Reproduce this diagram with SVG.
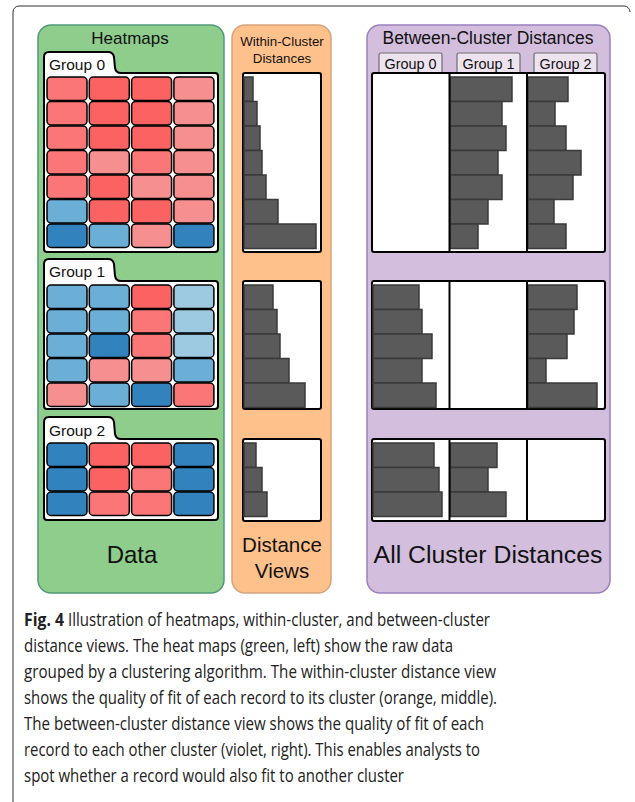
<svg xmlns="http://www.w3.org/2000/svg" width="635" height="802" viewBox="0 0 635 802">
  <style>
    .frame { fill: none; stroke: #333; stroke-width: 1; }
    .pg { fill: #8fcd8c; stroke: #4f9b78; stroke-width: 1.5; }
    .po { fill: #ffc18b; stroke: #d6a47d; stroke-width: 1.5; }
    .pv { fill: #d3bedd; stroke: #9b80bd; stroke-width: 1.5; }
    .t { font-family: "Liberation Sans", Arial, sans-serif; fill: #111; }
    .box { fill: #fff; stroke: #000; stroke-width: 2; }
    .c { stroke: #000; stroke-width: 1.5; }
    .S { fill: #fb6262; } .M { fill: #fb7676; } .P { fill: #f69090; }
    .MB { fill: #6baed6; } .DB { fill: #3182bd; } .LB { fill: #9ecae1; }
    .bar { fill: #5a5a5a; stroke: #3a3a3a; stroke-width: 1.5; }
    .vtab { fill: #ede3ef; stroke: #6e6e6e; stroke-width: 1.2; }
    .div { stroke: #000; stroke-width: 2; }
    .cap { font-family: "Open Sans", "Noto Sans", sans-serif; font-size: 18px; fill: #222; }
  </style>

  <path class="frame" d="M13,802 V12 A6,6 0 0 1 19,6 H624 A6,6 0 0 1 630,12"/>

  <!-- Heatmaps panel -->
  <g id="heatmaps">
    <rect class="pg" x="38" y="25" width="186" height="568" rx="13"/>
    <text class="t" x="130" y="44" font-size="17" text-anchor="middle">Heatmaps</text>

    <g id="group0">
      <path class="box" d="M44,76 V57 Q44,52 49,52 H108 Q113,52 114,57 L115,68 Q116,73 121,73 H215 Q218,73 218,76 V249 Q218,252 215,252 H47 Q44,252 44,249 Z"/>
      <text class="t" x="49" y="70" font-size="15.5">Group 0</text>
      <g class="c">
        <rect class="M" x="47" y="77" width="40" height="23.5" rx="4"/>
        <rect class="S" x="89.3" y="77" width="40" height="23.5" rx="4"/>
        <rect class="S" x="131.6" y="77" width="40" height="23.5" rx="4"/>
        <rect class="P" x="173.9" y="77" width="40" height="23.5" rx="4"/>
        <rect class="M" x="47" y="101.5" width="40" height="23.5" rx="4"/>
        <rect class="S" x="89.3" y="101.5" width="40" height="23.5" rx="4"/>
        <rect class="S" x="131.6" y="101.5" width="40" height="23.5" rx="4"/>
        <rect class="P" x="173.9" y="101.5" width="40" height="23.5" rx="4"/>
        <rect class="M" x="47" y="126" width="40" height="23.5" rx="4"/>
        <rect class="S" x="89.3" y="126" width="40" height="23.5" rx="4"/>
        <rect class="S" x="131.6" y="126" width="40" height="23.5" rx="4"/>
        <rect class="P" x="173.9" y="126" width="40" height="23.5" rx="4"/>
        <rect class="M" x="47" y="150.5" width="40" height="23.5" rx="4"/>
        <rect class="P" x="89.3" y="150.5" width="40" height="23.5" rx="4"/>
        <rect class="M" x="131.6" y="150.5" width="40" height="23.5" rx="4"/>
        <rect class="P" x="173.9" y="150.5" width="40" height="23.5" rx="4"/>
        <rect class="M" x="47" y="175" width="40" height="23.5" rx="4"/>
        <rect class="S" x="89.3" y="175" width="40" height="23.5" rx="4"/>
        <rect class="P" x="131.6" y="175" width="40" height="23.5" rx="4"/>
        <rect class="P" x="173.9" y="175" width="40" height="23.5" rx="4"/>
        <rect class="MB" x="47" y="199.5" width="40" height="23.5" rx="4"/>
        <rect class="S" x="89.3" y="199.5" width="40" height="23.5" rx="4"/>
        <rect class="S" x="131.6" y="199.5" width="40" height="23.5" rx="4"/>
        <rect class="P" x="173.9" y="199.5" width="40" height="23.5" rx="4"/>
        <rect class="DB" x="47" y="224" width="40" height="23.5" rx="4"/>
        <rect class="MB" x="89.3" y="224" width="40" height="23.5" rx="4"/>
        <rect class="P" x="131.6" y="224" width="40" height="23.5" rx="4"/>
        <rect class="DB" x="173.9" y="224" width="40" height="23.5" rx="4"/>
      </g>
    </g>

    <g id="group1">
      <path class="box" d="M44,284 V264 Q44,259 49,259 H108 Q113,259 114,264 L115,276 Q116,281 121,281 H215 Q218,281 218,284 V406 Q218,409 215,409 H47 Q44,409 44,406 Z"/>
      <text class="t" x="49" y="277" font-size="15.5">Group 1</text>
      <g class="c">
        <rect class="MB" x="47" y="285" width="40" height="23.5" rx="4"/>
        <rect class="MB" x="89.3" y="285" width="40" height="23.5" rx="4"/>
        <rect class="S" x="131.6" y="285" width="40" height="23.5" rx="4"/>
        <rect class="LB" x="173.9" y="285" width="40" height="23.5" rx="4"/>
        <rect class="MB" x="47" y="309.5" width="40" height="23.5" rx="4"/>
        <rect class="MB" x="89.3" y="309.5" width="40" height="23.5" rx="4"/>
        <rect class="M" x="131.6" y="309.5" width="40" height="23.5" rx="4"/>
        <rect class="LB" x="173.9" y="309.5" width="40" height="23.5" rx="4"/>
        <rect class="MB" x="47" y="334" width="40" height="23.5" rx="4"/>
        <rect class="DB" x="89.3" y="334" width="40" height="23.5" rx="4"/>
        <rect class="M" x="131.6" y="334" width="40" height="23.5" rx="4"/>
        <rect class="LB" x="173.9" y="334" width="40" height="23.5" rx="4"/>
        <rect class="MB" x="47" y="358.5" width="40" height="23.5" rx="4"/>
        <rect class="P" x="89.3" y="358.5" width="40" height="23.5" rx="4"/>
        <rect class="P" x="131.6" y="358.5" width="40" height="23.5" rx="4"/>
        <rect class="MB" x="173.9" y="358.5" width="40" height="23.5" rx="4"/>
        <rect class="P" x="47" y="383" width="40" height="23.5" rx="4"/>
        <rect class="MB" x="89.3" y="383" width="40" height="23.5" rx="4"/>
        <rect class="DB" x="131.6" y="383" width="40" height="23.5" rx="4"/>
        <rect class="M" x="173.9" y="383" width="40" height="23.5" rx="4"/>
      </g>
    </g>

    <g id="group2">
      <path class="box" d="M44,442 V422 Q44,417 49,417 H108 Q113,417 114,422 L115,434 Q116,439 121,439 H215 Q218,439 218,442 V517 Q218,520 215,520 H47 Q44,520 44,517 Z"/>
      <text class="t" x="49" y="436" font-size="15.5">Group 2</text>
      <g class="c">
        <rect class="DB" x="47" y="443" width="40" height="23.5" rx="4"/>
        <rect class="S" x="89.3" y="443" width="40" height="23.5" rx="4"/>
        <rect class="S" x="131.6" y="443" width="40" height="23.5" rx="4"/>
        <rect class="DB" x="173.9" y="443" width="40" height="23.5" rx="4"/>
        <rect class="DB" x="47" y="467.5" width="40" height="23.5" rx="4"/>
        <rect class="S" x="89.3" y="467.5" width="40" height="23.5" rx="4"/>
        <rect class="M" x="131.6" y="467.5" width="40" height="23.5" rx="4"/>
        <rect class="DB" x="173.9" y="467.5" width="40" height="23.5" rx="4"/>
        <rect class="DB" x="47" y="492" width="40" height="23.5" rx="4"/>
        <rect class="M" x="89.3" y="492" width="40" height="23.5" rx="4"/>
        <rect class="M" x="131.6" y="492" width="40" height="23.5" rx="4"/>
        <rect class="DB" x="173.9" y="492" width="40" height="23.5" rx="4"/>
      </g>
    </g>

    <text class="t" x="132" y="563" font-size="24" text-anchor="middle">Data</text>
  </g>

  <!-- Within-cluster distance views -->
  <g id="within">
    <rect class="po" x="232" y="25" width="99" height="568" rx="13"/>
    <text class="t" x="282" y="46" font-size="13.3" text-anchor="middle">Within-Cluster</text>
    <text class="t" x="282" y="63" font-size="13.3" text-anchor="middle">Distances</text>

    <rect class="box" x="243" y="73" width="78" height="179" rx="2"/>
    <g class="bar">
      <rect x="244" y="77" width="9" height="24.5"/>
      <rect x="244" y="101.5" width="13" height="24.5"/>
      <rect x="244" y="126" width="16" height="24.5"/>
      <rect x="244" y="150.5" width="18" height="24.5"/>
      <rect x="244" y="175" width="22" height="24.5"/>
      <rect x="244" y="199.5" width="34" height="24.5"/>
      <rect x="244" y="224" width="72" height="24.5"/>
    </g>

    <rect class="box" x="243" y="281" width="78" height="128" rx="2"/>
    <g class="bar">
      <rect x="244" y="285" width="29" height="24.5"/>
      <rect x="244" y="309.5" width="33" height="24.5"/>
      <rect x="244" y="334" width="36" height="24.5"/>
      <rect x="244" y="358.5" width="45" height="24.5"/>
      <rect x="244" y="383" width="61" height="24.5"/>
    </g>

    <rect class="box" x="243" y="439" width="78" height="82" rx="2"/>
    <g class="bar">
      <rect x="244" y="443" width="12" height="24.5"/>
      <rect x="244" y="467.5" width="18" height="24.5"/>
      <rect x="244" y="492" width="23" height="24.5"/>
    </g>

    <text class="t" x="282" y="552" font-size="20.5" text-anchor="middle">Distance</text>
    <text class="t" x="282" y="578" font-size="20.5" text-anchor="middle">Views</text>
  </g>

  <!-- Between-cluster distance views -->
  <g id="between">
    <rect class="pv" x="367" y="25" width="243" height="568" rx="13"/>
    <text class="t" x="488" y="44" font-size="17.5" text-anchor="middle">Between-Cluster Distances</text>

    <rect class="vtab" x="379" y="53" width="63" height="22" rx="2"/>
    <rect class="vtab" x="457" y="53" width="63" height="22" rx="2"/>
    <rect class="vtab" x="534" y="53" width="63" height="22" rx="2"/>
    <text class="t" x="410.5" y="69" font-size="14.4" text-anchor="middle">Group 0</text>
    <text class="t" x="488.5" y="69" font-size="14.4" text-anchor="middle">Group 1</text>
    <text class="t" x="565.5" y="69" font-size="14.4" text-anchor="middle">Group 2</text>

    <!-- row for group 0 records -->
    <rect class="box" x="372" y="73" width="233" height="179" rx="2"/>
    <g class="bar">
      <rect x="450" y="77" width="62" height="24.5"/>
      <rect x="450" y="101.5" width="52" height="24.5"/>
      <rect x="450" y="126" width="56" height="24.5"/>
      <rect x="450" y="150.5" width="48" height="24.5"/>
      <rect x="450" y="175" width="52" height="24.5"/>
      <rect x="450" y="199.5" width="38" height="24.5"/>
      <rect x="450" y="224" width="28" height="24.5"/>
      <rect x="528" y="77" width="40" height="24.5"/>
      <rect x="528" y="101.5" width="27" height="24.5"/>
      <rect x="528" y="126" width="38" height="24.5"/>
      <rect x="528" y="150.5" width="53" height="24.5"/>
      <rect x="528" y="175" width="45" height="24.5"/>
      <rect x="528" y="199.5" width="26" height="24.5"/>
      <rect x="528" y="224" width="38" height="24.5"/>
    </g>
    <line class="div" x1="449.5" y1="73" x2="449.5" y2="252"/>
    <line class="div" x1="527" y1="73" x2="527" y2="252"/>

    <!-- row for group 1 records -->
    <rect class="box" x="372" y="281" width="233" height="128" rx="2"/>
    <g class="bar">
      <rect x="373" y="285" width="46" height="24.5"/>
      <rect x="373" y="309.5" width="49" height="24.5"/>
      <rect x="373" y="334" width="59" height="24.5"/>
      <rect x="373" y="358.5" width="49" height="24.5"/>
      <rect x="373" y="383" width="63" height="24.5"/>
      <rect x="528" y="285" width="49" height="24.5"/>
      <rect x="528" y="309.5" width="46" height="24.5"/>
      <rect x="528" y="334" width="39" height="24.5"/>
      <rect x="528" y="358.5" width="18" height="24.5"/>
      <rect x="528" y="383" width="69" height="24.5"/>
    </g>
    <line class="div" x1="449.5" y1="281" x2="449.5" y2="409"/>
    <line class="div" x1="527" y1="281" x2="527" y2="409"/>

    <!-- row for group 2 records -->
    <rect class="box" x="372" y="439" width="233" height="82" rx="2"/>
    <g class="bar">
      <rect x="373" y="443" width="61" height="24.5"/>
      <rect x="373" y="467.5" width="66" height="24.5"/>
      <rect x="373" y="492" width="69" height="24.5"/>
      <rect x="450" y="443" width="47" height="24.5"/>
      <rect x="450" y="467.5" width="38" height="24.5"/>
      <rect x="450" y="492" width="56" height="24.5"/>
    </g>
    <line class="div" x1="449.5" y1="439" x2="449.5" y2="521"/>
    <line class="div" x1="527" y1="439" x2="527" y2="521"/>

    <text class="t" x="488" y="563" font-size="24.8" text-anchor="middle">All Cluster Distances</text>
  </g>

  <!-- Caption -->
  <g id="caption" class="cap">
    <text x="24" y="626" font-weight="bold" textLength="40" lengthAdjust="spacingAndGlyphs">Fig. 4</text>
    <text x="68" y="626" textLength="422" lengthAdjust="spacingAndGlyphs">Illustration of heatmaps, within-cluster, and between-cluster</text>
    <text x="24" y="652" textLength="429" lengthAdjust="spacingAndGlyphs">distance views. The heat maps (green, left) show the raw data</text>
    <text x="24" y="678" textLength="472" lengthAdjust="spacingAndGlyphs">grouped by a clustering algorithm. The within-cluster distance view</text>
    <text x="24" y="704" textLength="473" lengthAdjust="spacingAndGlyphs">shows the quality of fit of each record to its cluster (orange, middle).</text>
    <text x="24" y="730" textLength="460" lengthAdjust="spacingAndGlyphs">The between-cluster distance view shows the quality of fit of each</text>
    <text x="24" y="756" textLength="456" lengthAdjust="spacingAndGlyphs">record to each other cluster (violet, right). This enables analysts to</text>
    <text x="24" y="782" textLength="380" lengthAdjust="spacingAndGlyphs">spot whether a record would also fit to another cluster</text>
  </g>
</svg>
